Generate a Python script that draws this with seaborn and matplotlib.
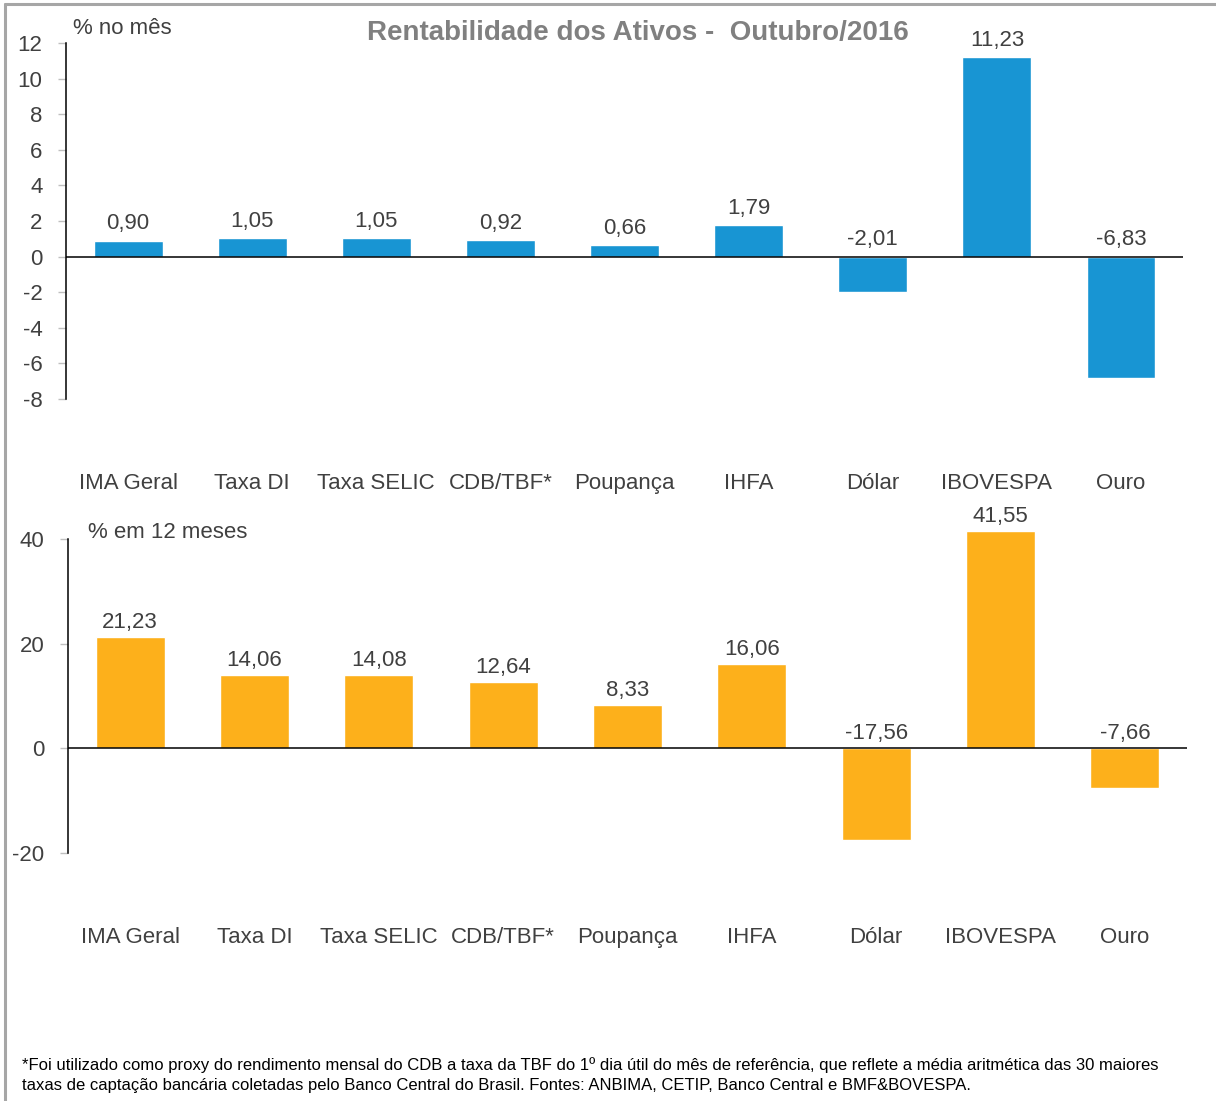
import numpy as np
import pandas as pd
import seaborn as sns
from matplotlib import pyplot as plt
from matplotlib.lines import Line2D

# dados do gráfico
categorias = ['IMA Geral', 'Taxa DI', 'Taxa SELIC', 'CDB/TBF*', 'Poupança',
              'IHFA', 'Dólar', 'IBOVESPA', 'Ouro']
rent_mes = [0.90, 1.05, 1.05, 0.92, 0.66, 1.79, -2.01, 11.23, -6.83]
rent_12m = [21.23, 14.06, 14.08, 12.64, 8.33, 16.06, -17.56, 41.55, -7.66]

titulo = 'Rentabilidade dos Ativos -  Outubro/2016'
rodape = ('*Foi utilizado como proxy do rendimento mensal do CDB a taxa da TBF do 1º dia útil do mês de referência, '
          'que reflete a média aritmética das 30 maiores\n'
          'taxas de captação bancária coletadas pelo Banco Central do Brasil. Fontes: ANBIMA, CETIP, Banco Central e BMF&BOVESPA.')

sns.set_theme(style='white')
plt.rcParams['font.family'] = ['Liberation Sans', 'DejaVu Sans']
plt.rcParams['axes.unicode_minus'] = False

AZUL = '#1895D3'
LARANJA = '#FDB01B'
TXT = '#404040'
FS = 16

fig = plt.figure(figsize=(12.16, 11.01), dpi=100)
ax1 = fig.add_axes([0.0543, 0.6376, 0.9186, 0.3233])
ax2 = fig.add_axes([0.0559, 0.2252, 0.9203, 0.2852])


def desenha(ax, valores, cor, ylim, yticks, rotulo, rot_x, rot_y, desloc):
    df = pd.DataFrame({'cat': categorias, 'val': valores})
    sns.barplot(data=df, x='cat', y='val', color=cor, width=0.555, saturation=1, ax=ax)
    for p in ax.patches:
        p.set_clip_on(False)
    ax.set_ylim(*ylim)
    ax.set_xlim(-0.5, len(categorias) - 0.5)
    ax.set_yticks(yticks)
    ax.set_xlabel('')
    ax.set_ylabel('')
    for s in ['top', 'right', 'bottom']:
        ax.spines[s].set_visible(False)
    ax.spines['left'].set_color('black')
    ax.spines['left'].set_linewidth(1.1)
    ax.axhline(0, color='black', lw=1.1)
    ax.tick_params(axis='y', left=True, length=6, width=1, color='#BFBFBF',
                   labelsize=FS, labelcolor=TXT, pad=11)
    ax.tick_params(axis='x', length=0, labelsize=FS, labelcolor=TXT, pad=53)
    for i, v in enumerate(valores):
        y = max(v, 0)
        ax.annotate(f'{v:.2f}'.replace('.', ','), (i, y), xytext=(0, desloc),
                    textcoords='offset points', ha='center', va='bottom',
                    fontsize=FS, color=TXT, annotation_clip=False)
    ax.text(rot_x, rot_y, rotulo, transform=fig.transFigure, fontsize=FS,
            color=TXT, ha='left', va='center')


desenha(ax1, rent_mes, AZUL, (-8, 12), range(-8, 13, 2), '% no mês', 73 / 1216, 1 - 28 / 1101, 4.5)
desenha(ax2, rent_12m, LARANJA, (-20, 40), range(-20, 41, 20), '% em 12 meses', 88 / 1216, 1 - 533 / 1101, 3)

fig.text(638 / 1216, 1 - 33 / 1101, titulo, ha='center', va='center',
         fontsize=20, fontweight='bold', color='#808080')
fig.text(22 / 1216, 1 - 1075 / 1101, rodape, ha='left', va='center',
         fontsize=12, color='black', linespacing=1.45)

# moldura cinza
fig.add_artist(Line2D([5 / 1216, 5 / 1216], [0, 1 - 4 / 1101], color='#A6A6A6', lw=2.2,
                      transform=fig.transFigure))
fig.add_artist(Line2D([5 / 1216, 1], [1 - 4 / 1101, 1 - 4 / 1101], color='#A6A6A6', lw=2.2,
                      transform=fig.transFigure))

fig.savefig('out.png', dpi=100)
